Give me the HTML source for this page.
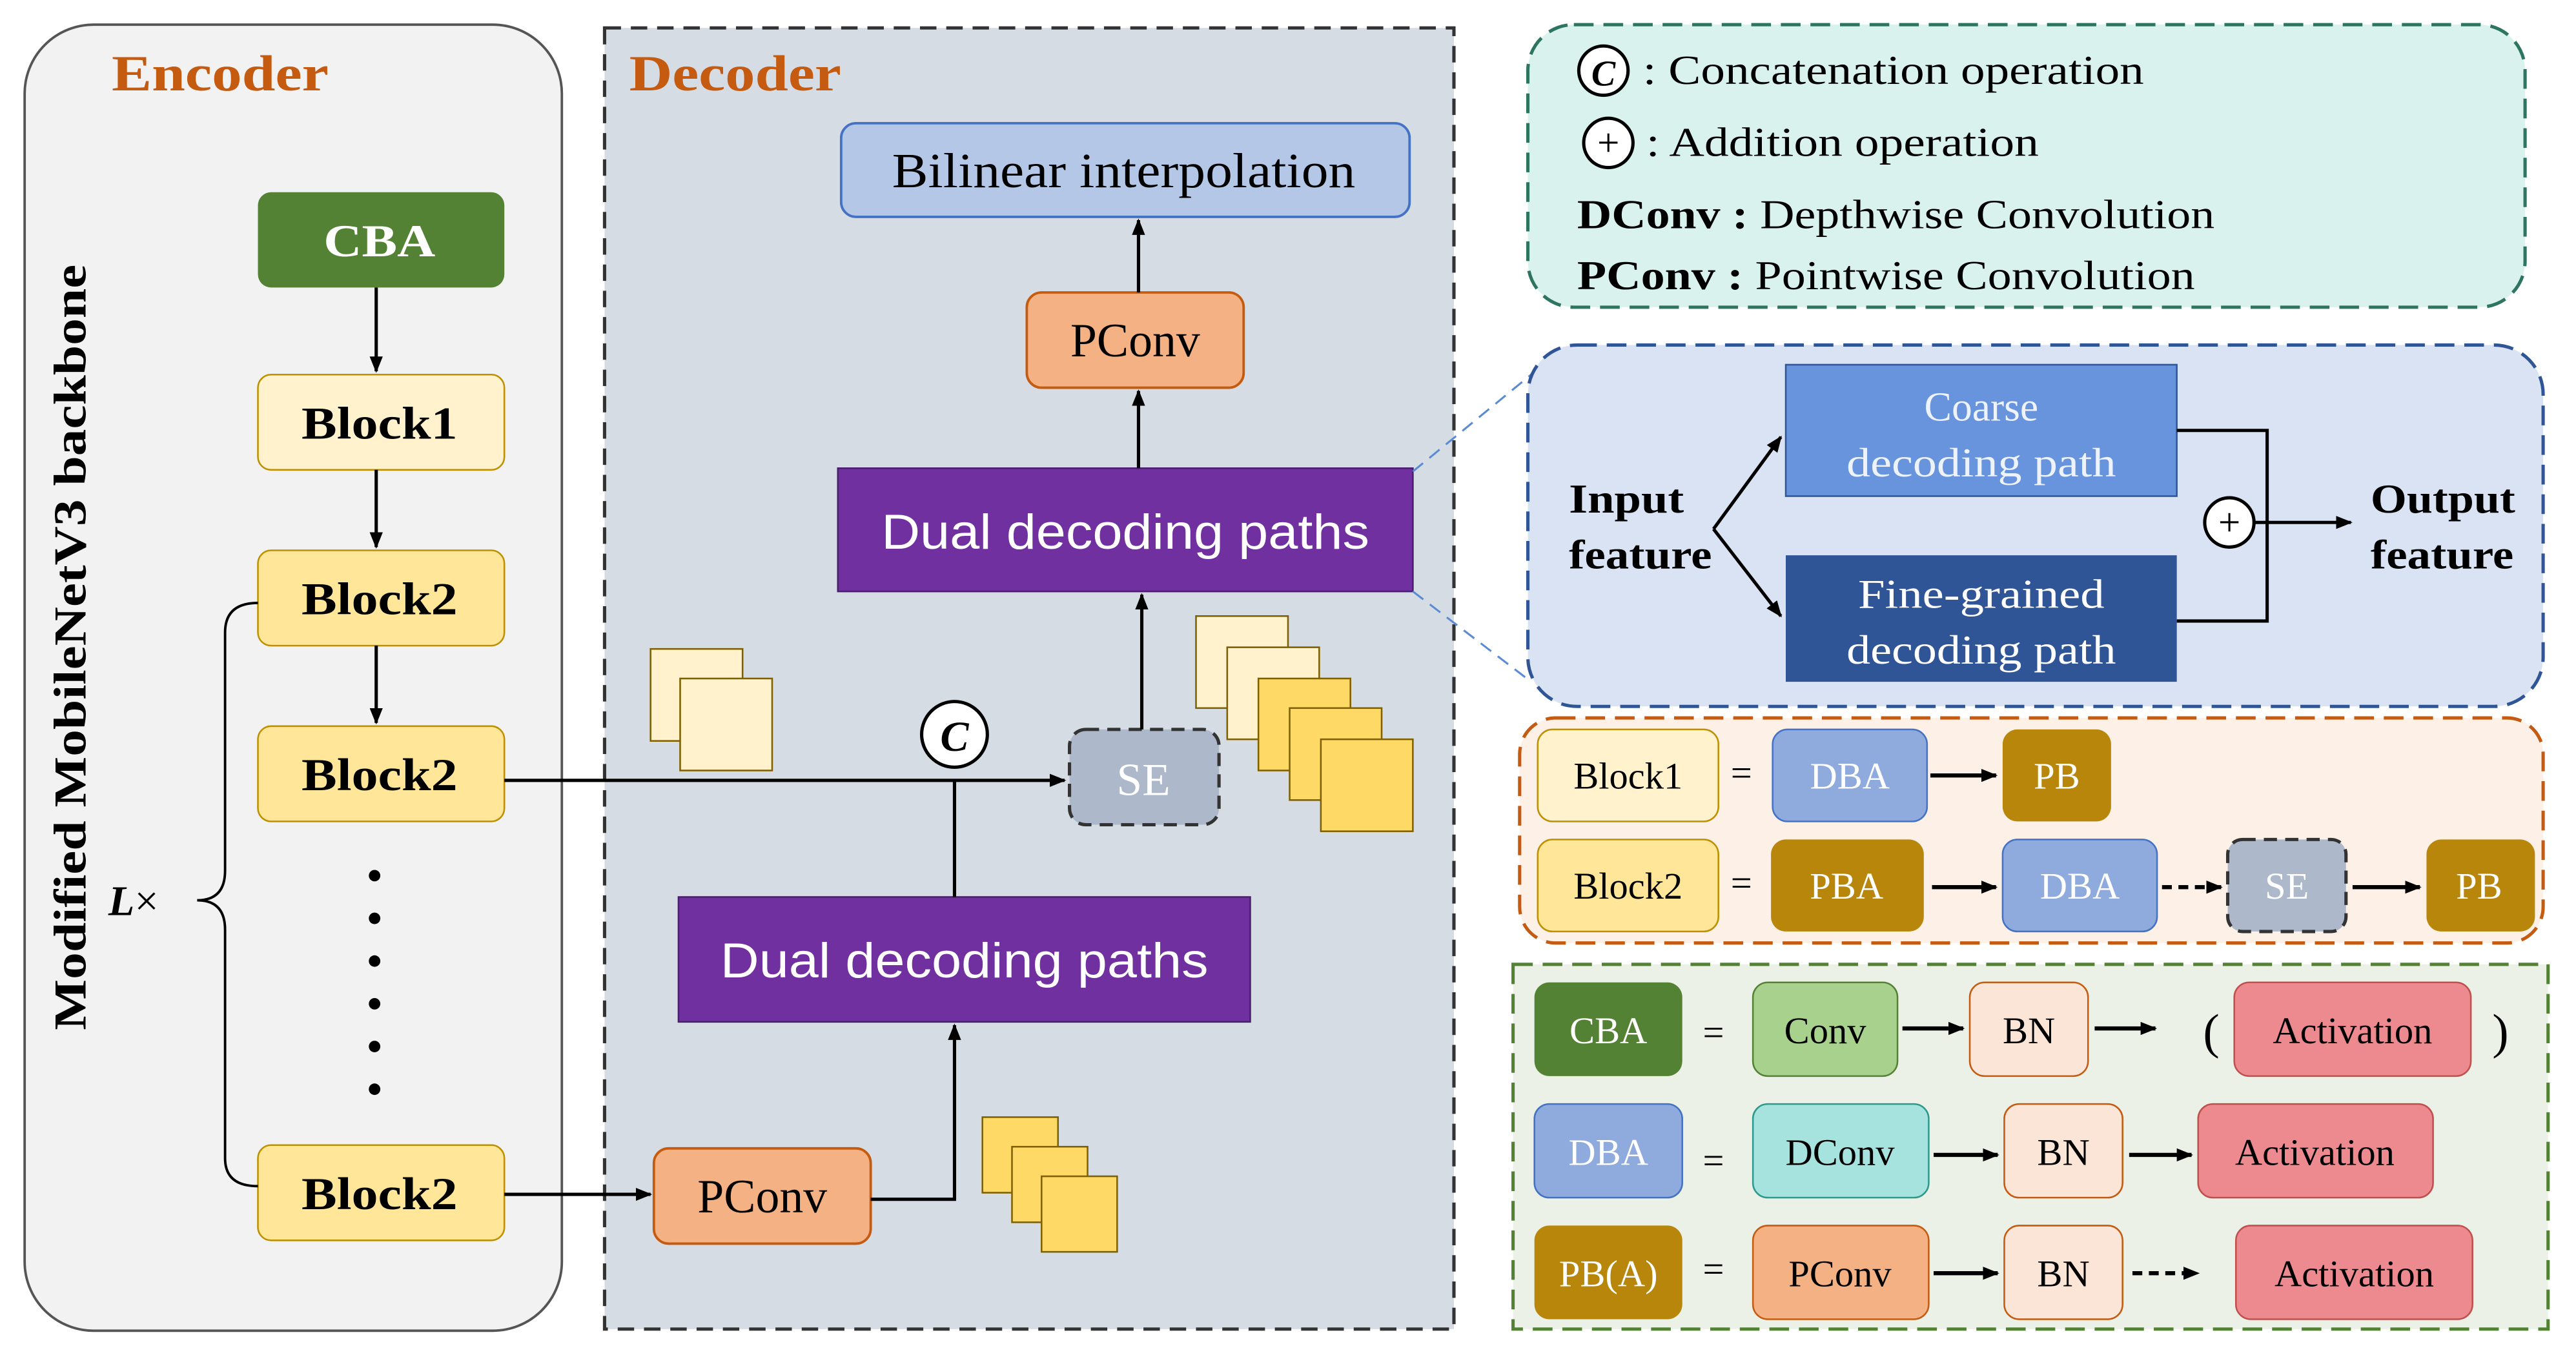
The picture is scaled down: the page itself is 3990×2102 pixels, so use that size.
<!DOCTYPE html>
<html><head><meta charset="utf-8">
<style>
html,body{margin:0;padding:0;background:#fff;}
svg{display:block;}
.s{font-family:"Liberation Serif",serif;}
.a{font-family:"Liberation Sans",sans-serif;}
</style></head>
<body>
<svg width="3990" height="2102" viewBox="0 0 1568 826" preserveAspectRatio="none" xmlns="http://www.w3.org/2000/svg">
<defs>
<marker id="ar" markerWidth="10" markerHeight="10" refX="9" refY="5" orient="auto" markerUnits="userSpaceOnUse"><path d="M0,1 L10,5 L0,9 z" fill="#000"/></marker>
</defs>
<rect width="1568" height="826" fill="#fff"/>

<!-- Encoder -->
<rect x="15" y="15" width="327" height="795" rx="42" fill="#f2f2f2" stroke="#555" stroke-width="1.5"/>
<text x="68" y="55" class="s" font-size="31" font-weight="bold" fill="#c55a11" textLength="132" lengthAdjust="spacingAndGlyphs">Encoder</text>
<text transform="translate(52,394) rotate(-90)" text-anchor="middle" class="s" font-size="28" font-weight="bold" fill="#000" textLength="466" lengthAdjust="spacingAndGlyphs">Modified MobileNetV3 backbone</text>

<g class="s" font-weight="bold" font-size="28" text-anchor="middle">
<rect x="157" y="117" width="150" height="58" rx="8" fill="#548235"/>
<text x="231" y="156" fill="#fff" textLength="68" lengthAdjust="spacingAndGlyphs">CBA</text>
<rect x="157" y="228" width="150" height="58" rx="8" fill="#fff2cc" stroke="#bf9000"/>
<text x="231" y="267" textLength="95" lengthAdjust="spacingAndGlyphs">Block1</text>
<rect x="157" y="335" width="150" height="58" rx="8" fill="#ffe699" stroke="#bf9000"/>
<text x="231" y="374" textLength="95" lengthAdjust="spacingAndGlyphs">Block2</text>
<rect x="157" y="442" width="150" height="58" rx="8" fill="#ffe699" stroke="#bf9000"/>
<text x="231" y="481" textLength="95" lengthAdjust="spacingAndGlyphs">Block2</text>
<rect x="157" y="697" width="150" height="58" rx="8" fill="#ffe699" stroke="#bf9000"/>
<text x="231" y="736" textLength="95" lengthAdjust="spacingAndGlyphs">Block2</text>
</g>
<g stroke="#000" stroke-width="2" marker-end="url(#ar)">
<line x1="229" y1="175" x2="229" y2="226"/>
<line x1="229" y1="286" x2="229" y2="333"/>
<line x1="229" y1="393" x2="229" y2="440"/>
</g>
<g fill="#000">
<circle cx="228" cy="533" r="3.5"/><circle cx="228" cy="559" r="3.5"/><circle cx="228" cy="585" r="3.5"/>
<circle cx="228" cy="611" r="3.5"/><circle cx="228" cy="637" r="3.5"/><circle cx="228" cy="663" r="3.5"/>
</g>
<path d="M157,367 Q137,367 137,385 L137,530 Q137,548 120,548 Q137,548 137,566 L137,705 Q137,722 157,722" fill="none" stroke="#000" stroke-width="1.5"/>
<text x="66" y="557" class="s" font-size="26" font-style="italic" font-weight="bold">L<tspan font-style="normal" font-weight="normal">×</tspan></text>

<!-- Decoder -->
<rect x="368" y="17" width="517" height="792" fill="#d6dce4" stroke="#333" stroke-width="2" stroke-dasharray="10,6"/>
<text x="383" y="55" class="s" font-size="31" font-weight="bold" fill="#c55a11" textLength="129" lengthAdjust="spacingAndGlyphs">Decoder</text>
<rect x="512" y="75" width="346" height="57" rx="9" fill="#b4c7e7" stroke="#4472c4" stroke-width="1.5"/>
<text x="684" y="114" text-anchor="middle" class="s" font-size="30" textLength="282" lengthAdjust="spacingAndGlyphs">Bilinear interpolation</text>
<rect x="625" y="178" width="132" height="58" rx="9" fill="#f4b183" stroke="#c55a11" stroke-width="1.5"/>
<text x="691" y="217" text-anchor="middle" class="s" font-size="29">PConv</text>
<rect x="510" y="285" width="350" height="75" fill="#7030a0" stroke="#4a1f6e"/>
<text x="685" y="334" text-anchor="middle" class="a" font-size="30" fill="#fff" textLength="297" lengthAdjust="spacingAndGlyphs">Dual decoding paths</text>
<rect x="413" y="546" width="348" height="76" fill="#7030a0" stroke="#4a1f6e"/>
<text x="587" y="595" text-anchor="middle" class="a" font-size="30" fill="#fff" textLength="297" lengthAdjust="spacingAndGlyphs">Dual decoding paths</text>
<rect x="651" y="444" width="91" height="58" rx="10" fill="#adb9ca" stroke="#333" stroke-width="2" stroke-dasharray="8,5"/>
<text x="696" y="484" text-anchor="middle" class="s" font-size="28" fill="#fff">SE</text>
<rect x="398" y="699" width="132" height="58" rx="9" fill="#f4b183" stroke="#c55a11" stroke-width="1.5"/>
<text x="464" y="738" text-anchor="middle" class="s" font-size="29">PConv</text>
<circle cx="581" cy="447" r="20" fill="#fff" stroke="#000" stroke-width="2"/>
<text x="581" y="457" text-anchor="middle" class="s" font-size="26" font-style="italic" font-weight="bold">C</text>

<g stroke="#000" stroke-width="2" fill="none">
<line x1="307" y1="475" x2="648" y2="475" marker-end="url(#ar)"/>
<line x1="581" y1="475" x2="581" y2="546"/>
<polyline points="530,730 581,730 581,624" marker-end="url(#ar)"/>
<line x1="307" y1="727" x2="396" y2="727" marker-end="url(#ar)"/>
<line x1="695" y1="444" x2="695" y2="362" marker-end="url(#ar)"/>
<line x1="693" y1="285" x2="693" y2="238" marker-end="url(#ar)"/>
<line x1="693" y1="178" x2="693" y2="134" marker-end="url(#ar)"/>
</g>
<g stroke="#7f6000" stroke-width="1">
<rect x="396" y="395" width="56" height="56" fill="#fff2cc"/>
<rect x="414" y="413" width="56" height="56" fill="#fff2cc"/>
<rect x="728" y="375" width="56" height="56" fill="#fff2cc"/>
<rect x="747" y="394" width="56" height="56" fill="#fff2cc"/>
<rect x="766" y="413" width="56" height="56" fill="#ffd966"/>
<rect x="785" y="431" width="56" height="56" fill="#ffd966"/>
<rect x="804" y="450" width="56" height="56" fill="#ffd966"/>
<rect x="598" y="680" width="46" height="46" fill="#ffd966"/>
<rect x="616" y="698" width="46" height="46" fill="#ffd966"/>
<rect x="634" y="716" width="46" height="46" fill="#ffd966"/>
</g>

<g stroke="#5b8bd5" stroke-width="1.2" stroke-dasharray="8,5">
<line x1="860" y1="287" x2="932" y2="228"/>
<line x1="860" y1="360" x2="932" y2="415"/>
</g>

<!-- Legend 1 -->
<rect x="930" y="15" width="607" height="172" rx="28" fill="#d9f2ee" stroke="#2e7560" stroke-width="2" stroke-dasharray="12,6"/>
<circle cx="976" cy="43" r="15" fill="#fff" stroke="#000" stroke-width="2"/>
<text x="976" y="52" text-anchor="middle" class="s" font-size="22" font-style="italic" font-weight="bold">C</text>
<text x="1000" y="51" class="s" font-size="25" textLength="305" lengthAdjust="spacingAndGlyphs">: Concatenation operation</text>
<circle cx="979" cy="87" r="15" fill="#fff" stroke="#000" stroke-width="2"/>
<text x="979" y="95" text-anchor="middle" class="s" font-size="24">+</text>
<text x="1002" y="95" class="s" font-size="25" textLength="239" lengthAdjust="spacingAndGlyphs">: Addition operation</text>
<text x="960" y="139" class="s" font-size="25" textLength="388" lengthAdjust="spacingAndGlyphs"><tspan font-weight="bold">DConv :</tspan> Depthwise Convolution</text>
<text x="960" y="176" class="s" font-size="25" textLength="376" lengthAdjust="spacingAndGlyphs"><tspan font-weight="bold">PConv :</tspan> Pointwise Convolution</text>

<!-- Legend 2 -->
<rect x="930" y="210" width="618" height="220" rx="30" fill="#dae3f3" stroke="#2f5597" stroke-width="2" stroke-dasharray="12,6"/>
<rect x="1087" y="222" width="238" height="80" fill="#6794dc" stroke="#2f5597"/>
<text x="1206" y="256" text-anchor="middle" class="s" font-size="25" fill="#eef3fb">Coarse</text>
<text x="1206" y="290" text-anchor="middle" class="s" font-size="25" fill="#eef3fb" textLength="164" lengthAdjust="spacingAndGlyphs">decoding path</text>
<rect x="1087" y="338" width="238" height="77" fill="#2f5597"/>
<text x="1206" y="370" text-anchor="middle" class="s" font-size="25" fill="#fff" textLength="150" lengthAdjust="spacingAndGlyphs">Fine-grained</text>
<text x="1206" y="404" text-anchor="middle" class="s" font-size="25" fill="#fff" textLength="164" lengthAdjust="spacingAndGlyphs">decoding path</text>
<text x="955" y="312" class="s" font-size="25" font-weight="bold" textLength="70" lengthAdjust="spacingAndGlyphs">Input</text>
<text x="955" y="346" class="s" font-size="25" font-weight="bold" textLength="87" lengthAdjust="spacingAndGlyphs">feature</text>
<text x="1443" y="312" class="s" font-size="25" font-weight="bold" textLength="88" lengthAdjust="spacingAndGlyphs">Output</text>
<text x="1443" y="346" class="s" font-size="25" font-weight="bold" textLength="87" lengthAdjust="spacingAndGlyphs">feature</text>
<g stroke="#000" stroke-width="2" fill="none">
<line x1="1043" y1="322" x2="1084" y2="266" marker-end="url(#ar)"/>
<line x1="1043" y1="322" x2="1084" y2="375" marker-end="url(#ar)"/>
<polyline points="1325,262 1380,262 1380,378 1325,378"/>
<line x1="1372" y1="318" x2="1431" y2="318" marker-end="url(#ar)"/>
</g>
<circle cx="1357" cy="318" r="15" fill="#fff" stroke="#000" stroke-width="2"/>
<text x="1357" y="326" text-anchor="middle" class="s" font-size="24">+</text>

<!-- Legend 3 -->
<rect x="925" y="437" width="623" height="137" rx="22" fill="#fdf0e6" stroke="#c55a11" stroke-width="2" stroke-dasharray="12,6"/>
<g class="s" font-size="23" text-anchor="middle">
<rect x="936" y="444" width="110" height="56" rx="9" fill="#fff2cc" stroke="#bf9000"/><text x="991" y="480">Block1</text>
<text x="1060" y="478">=</text>
<rect x="1079" y="444" width="94" height="56" rx="9" fill="#8faadc" stroke="#4472c4"/><text x="1126" y="480" fill="#fff">DBA</text>
<rect x="1219" y="444" width="66" height="56" rx="9" fill="#b8860b"/><text x="1252" y="480" fill="#fff">PB</text>
<rect x="936" y="511" width="110" height="56" rx="9" fill="#ffe699" stroke="#bf9000"/><text x="991" y="547">Block2</text>
<text x="1060" y="545">=</text>
<rect x="1078" y="511" width="93" height="56" rx="9" fill="#b8860b"/><text x="1124" y="547" fill="#fff">PBA</text>
<rect x="1219" y="511" width="94" height="56" rx="9" fill="#8faadc" stroke="#4472c4"/><text x="1266" y="547" fill="#fff">DBA</text>
<rect x="1356" y="511" width="72" height="56" rx="9" fill="#adb9ca" stroke="#333" stroke-width="2" stroke-dasharray="8,5"/><text x="1392" y="547" fill="#fff">SE</text>
<rect x="1477" y="511" width="66" height="56" rx="9" fill="#b8860b"/><text x="1509" y="547" fill="#fff">PB</text>
</g>
<g stroke="#000" stroke-width="2.5">
<line x1="1175" y1="472" x2="1215" y2="472" marker-end="url(#ar)"/>
<line x1="1176" y1="540" x2="1215" y2="540" marker-end="url(#ar)"/>
<line x1="1316" y1="540" x2="1352" y2="540" stroke-dasharray="6,4" marker-end="url(#ar)"/>
<line x1="1432" y1="540" x2="1473" y2="540" marker-end="url(#ar)"/>
</g>

<!-- Legend 4 -->
<rect x="921" y="587" width="630" height="222" fill="#ebf1e6" stroke="#548235" stroke-width="2" stroke-dasharray="12,6"/>
<g class="s" font-size="23" text-anchor="middle">
<rect x="934" y="598" width="90" height="57" rx="9" fill="#548235"/><text x="979" y="635" fill="#fff">CBA</text>
<text x="1043" y="636">=</text>
<rect x="1067" y="598" width="88" height="57" rx="9" fill="#a9d18e" stroke="#548235"/><text x="1111" y="635">Conv</text>
<rect x="1199" y="598" width="72" height="57" rx="9" fill="#fbe5d6" stroke="#c55a11"/><text x="1235" y="635">BN</text>
<text x="1346" y="638" font-size="30">(</text>
<rect x="1360" y="598" width="144" height="57" rx="9" fill="#ec8a90" stroke="#c0504d"/><text x="1432" y="635">Activation</text>
<text x="1522" y="638" font-size="30">)</text>

<rect x="934" y="672" width="90" height="57" rx="9" fill="#8faadc" stroke="#4472c4"/><text x="979" y="709" fill="#fff">DBA</text>
<text x="1043" y="714">=</text>
<rect x="1067" y="672" width="107" height="57" rx="9" fill="#a6e3df" stroke="#2e9a8e"/><text x="1120" y="709">DConv</text>
<rect x="1220" y="672" width="72" height="57" rx="9" fill="#fbe5d6" stroke="#c55a11"/><text x="1256" y="709">BN</text>
<rect x="1338" y="672" width="143" height="57" rx="9" fill="#ec8a90" stroke="#c0504d"/><text x="1409" y="709">Activation</text>

<rect x="934" y="746" width="90" height="57" rx="9" fill="#b8860b"/><text x="979" y="783" fill="#fff">PB(A)</text>
<text x="1043" y="780">=</text>
<rect x="1067" y="746" width="107" height="57" rx="9" fill="#f4b183" stroke="#c55a11"/><text x="1120" y="783">PConv</text>
<rect x="1220" y="746" width="72" height="57" rx="9" fill="#fbe5d6" stroke="#c55a11"/><text x="1256" y="783">BN</text>
<rect x="1361" y="746" width="144" height="57" rx="9" fill="#ec8a90" stroke="#c0504d"/><text x="1433" y="783">Activation</text>
</g>
<g stroke="#000" stroke-width="2.5">
<line x1="1158" y1="626" x2="1195" y2="626" marker-end="url(#ar)"/>
<line x1="1275" y1="626" x2="1312" y2="626" marker-end="url(#ar)"/>
<line x1="1177" y1="703" x2="1216" y2="703" marker-end="url(#ar)"/>
<line x1="1296" y1="703" x2="1334" y2="703" marker-end="url(#ar)"/>
<line x1="1177" y1="775" x2="1216" y2="775" marker-end="url(#ar)"/>
<line x1="1298" y1="775" x2="1338" y2="775" stroke-dasharray="6,4" marker-end="url(#ar)"/>
</g>
</svg>
</body></html>
